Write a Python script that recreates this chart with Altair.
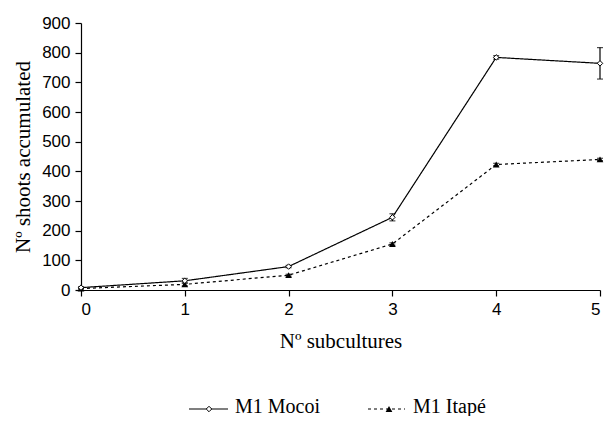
import altair as alt
import pandas as pd

subcultures = [0, 1, 2, 3, 4, 5]
series_names = ["M1 Mocoi", "M1 Itapé"]
mocoi = [8, 31, 79, 245, 784, 764]
mocoi_err = [3, 8, 4, 12, 6, 53]
itape = [5, 19, 50, 155, 423, 440]
itape_err = [2, 5, 3, 4, 4, 4]
y_ticks = [0, 100, 200, 300, 400, 500, 600, 700, 800, 900]

rows = []
for name, vals, errs in [(series_names[0], mocoi, mocoi_err), (series_names[1], itape, itape_err)]:
    for s, v, e in zip(subcultures, vals, errs):
        rows.append({"sub": s, "series": name, "val": v, "lo": v - e, "hi": v + e})
df = pd.DataFrame(rows)
leg_df = pd.DataFrame({"series": series_names})

xscale = alt.Scale(domain=[0, 5], nice=False)
yscale = alt.Scale(domain=[0, 900], nice=False)
xaxis = alt.Axis(values=subcultures, format="d", title="Nº subcultures", titlePadding=13)
yaxis = alt.Axis(values=y_ticks, format="d", title="Nº shoots accumulated", titlePadding=8)


def X(f="sub"):
    return alt.X(f"{f}:Q", scale=xscale, axis=xaxis)


def Y(f):
    return alt.Y(f"{f}:Q", scale=yscale, axis=yaxis)


base = alt.Chart(df)

lines = base.mark_line(color="black", strokeWidth=1.2).encode(
    x=X(), y=Y("val"),
    strokeDash=alt.StrokeDash("series:N", scale=alt.Scale(domain=series_names, range=[[1, 0], [3, 3]]), legend=None),
)
bars = base.mark_rule(color="black", strokeWidth=1.2).encode(x=X(), y=Y("lo"), y2="hi:Q")
cap_lo = base.mark_tick(color="black", orient="horizontal", size=6, thickness=1.2).encode(x=X(), y=Y("lo"))
cap_hi = base.mark_tick(color="black", orient="horizontal", size=6, thickness=1.2).encode(x=X(), y=Y("hi"))

pts_m = base.transform_filter(alt.datum.series == series_names[0]).mark_point(
    shape="diamond", size=30, filled=True, fill="white", stroke="black", strokeWidth=1, opacity=1
).encode(x=X(), y=Y("val"))
pts_i = base.transform_filter(alt.datum.series == series_names[1]).mark_point(
    shape="triangle-up", size=45, filled=True, color="black", opacity=1
).encode(x=X(), y=Y("val"))

leg = alt.Chart(leg_df)
leg_m = leg.transform_filter(alt.datum.series == series_names[0])
leg_i = leg.transform_filter(alt.datum.series == series_names[1])
ly = 386
legend_layers = [
    leg_m.mark_rule(color="black", strokeWidth=1.2).encode(x=alt.value(108), x2=alt.value(147), y=alt.value(ly)),
    leg_m.mark_point(shape="diamond", size=30, filled=True, fill="white", stroke="black", strokeWidth=1, opacity=1).encode(
        x=alt.value(128), y=alt.value(ly)),
    leg_m.mark_text(align="left", baseline="middle", font="Liberation Serif", fontSize=20, color="black").encode(
        text="series:N", x=alt.value(154), y=alt.value(ly - 2)),
    leg_i.mark_rule(color="black", strokeWidth=1.2, strokeDash=[3, 3]).encode(x=alt.value(287), x2=alt.value(324), y=alt.value(ly)),
    leg_i.mark_point(shape="triangle-up", size=45, filled=True, color="black", opacity=1).encode(
        x=alt.value(308), y=alt.value(ly)),
    leg_i.mark_text(align="left", baseline="middle", font="Liberation Serif", fontSize=20, color="black").encode(
        text="series:N", x=alt.value(332), y=alt.value(ly - 2)),
]

chart = alt.layer(lines, bars, cap_lo, cap_hi, pts_i, pts_m, *legend_layers).properties(
    width=519, height=267,
    padding={"left": 73, "top": 15, "right": 4, "bottom": 126},
    autosize=alt.AutoSizeParams(type="none"),
).configure_view(stroke=None).configure_axis(
    grid=False, domainColor="black", tickColor="black", labelColor="black", titleColor="black",
    domainWidth=1.2, tickWidth=1.2, tickSize=6, labelPadding=5,
    labelFont="Liberation Sans", labelFontSize=17,
    titleFont="Liberation Serif", titleFontSize=21, titleFontWeight="normal",
)

chart.save("out.html", embed_options={"renderer": "svg", "actions": False})
